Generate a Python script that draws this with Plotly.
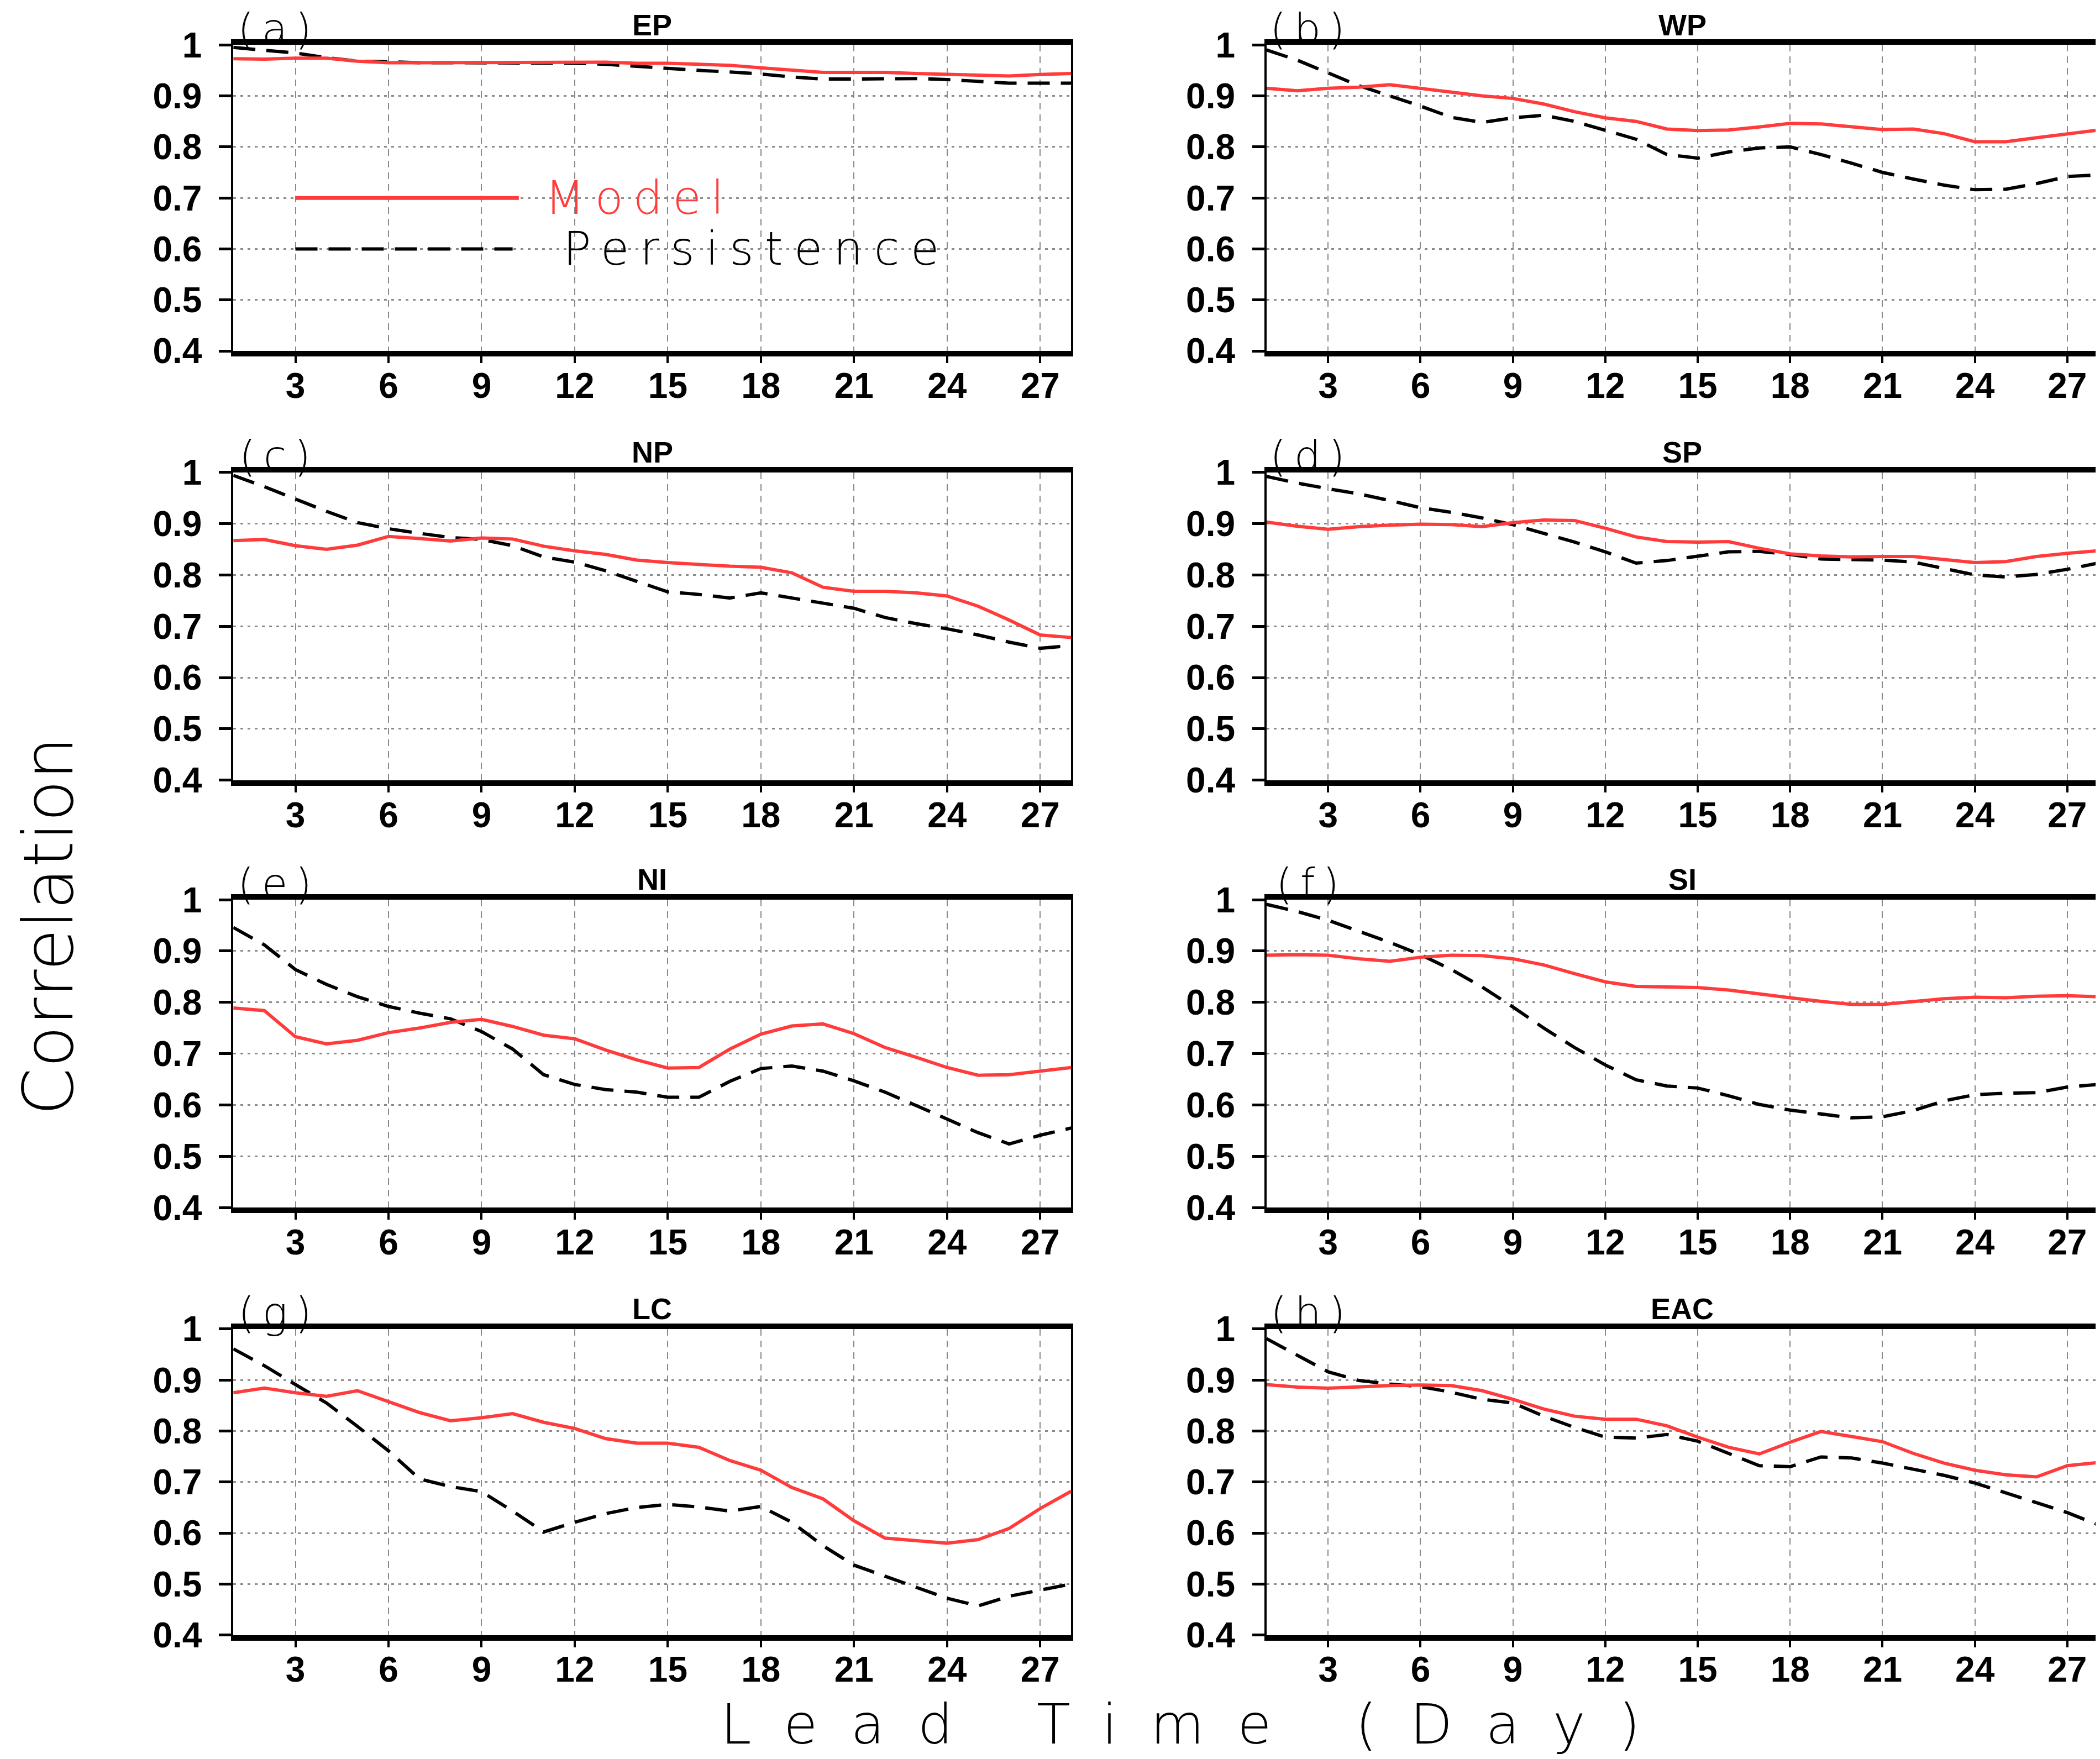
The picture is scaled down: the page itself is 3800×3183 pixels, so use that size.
import plotly.graph_objects as go
from plotly.subplots import make_subplots

days = list(range(1, 29))

ep_model = [0.973, 0.972, 0.974, 0.974, 0.968, 0.965, 0.965, 0.965, 0.965, 0.966, 0.966, 0.966, 0.966, 0.964,
            0.964, 0.962, 0.960, 0.955, 0.950, 0.946, 0.946, 0.946, 0.944, 0.942, 0.941, 0.939, 0.942, 0.944]
ep_pers = [0.995, 0.990, 0.984, 0.975, 0.968, 0.967, 0.965, 0.965, 0.965, 0.964, 0.964, 0.964, 0.962, 0.958,
           0.953, 0.950, 0.947, 0.943, 0.937, 0.933, 0.933, 0.933, 0.934, 0.932, 0.929, 0.925, 0.925, 0.925]

wp_model = [0.915, 0.910, 0.915, 0.917, 0.922, 0.915, 0.908, 0.900, 0.895, 0.884, 0.869, 0.857, 0.850, 0.835,
            0.832, 0.833, 0.839, 0.846, 0.845, 0.840, 0.834, 0.835, 0.826, 0.810, 0.810, 0.818, 0.826, 0.833]
wp_pers = [0.990, 0.970, 0.945, 0.920, 0.900, 0.880, 0.858, 0.848, 0.857, 0.862, 0.850, 0.833, 0.815, 0.785,
           0.778, 0.790, 0.798, 0.800, 0.785, 0.768, 0.750, 0.737, 0.725, 0.716, 0.717, 0.728, 0.742, 0.745]

np_model = [0.867, 0.869, 0.857, 0.850, 0.858, 0.875, 0.871, 0.866, 0.872, 0.870, 0.856, 0.847, 0.840, 0.829,
            0.824, 0.820, 0.817, 0.815, 0.804, 0.776, 0.768, 0.768, 0.765, 0.759, 0.739, 0.712, 0.683, 0.678]
np_pers = [0.994, 0.972, 0.948, 0.924, 0.902, 0.890, 0.881, 0.873, 0.869, 0.857, 0.835, 0.825, 0.808, 0.787,
           0.767, 0.762, 0.755, 0.765, 0.755, 0.744, 0.735, 0.717, 0.705, 0.695, 0.683, 0.669, 0.657, 0.662]

sp_model = [0.903, 0.895, 0.889, 0.894, 0.897, 0.899, 0.898, 0.894, 0.902, 0.907, 0.906, 0.891, 0.874, 0.865,
            0.864, 0.865, 0.852, 0.841, 0.837, 0.835, 0.836, 0.836, 0.830, 0.824, 0.826, 0.836, 0.842, 0.847]
sp_pers = [0.992, 0.979, 0.968, 0.958, 0.945, 0.931, 0.922, 0.911, 0.898, 0.881, 0.864, 0.845, 0.823, 0.828,
           0.837, 0.845, 0.846, 0.840, 0.831, 0.830, 0.829, 0.825, 0.812, 0.800, 0.796, 0.801, 0.811, 0.823]

ni_model = [0.789, 0.784, 0.733, 0.719, 0.726, 0.741, 0.750, 0.761, 0.767, 0.753, 0.736, 0.729, 0.707, 0.688,
            0.672, 0.673, 0.709, 0.738, 0.754, 0.758, 0.739, 0.712, 0.693, 0.673, 0.658, 0.659, 0.666, 0.673]
ni_pers = [0.946, 0.912, 0.864, 0.835, 0.811, 0.792, 0.779, 0.768, 0.743, 0.709, 0.659, 0.640, 0.630, 0.625,
           0.615, 0.615, 0.646, 0.671, 0.676, 0.666, 0.647, 0.625, 0.599, 0.572, 0.546, 0.524, 0.541, 0.555]

si_model = [0.892, 0.893, 0.892, 0.885, 0.880, 0.888, 0.892, 0.891, 0.885, 0.873, 0.856, 0.840, 0.831, 0.830,
            0.829, 0.824, 0.816, 0.809, 0.802, 0.796, 0.796, 0.802, 0.807, 0.810, 0.809, 0.812, 0.813, 0.811]
si_pers = [0.991, 0.977, 0.960, 0.938, 0.917, 0.893, 0.864, 0.830, 0.791, 0.750, 0.712, 0.678, 0.649, 0.637,
           0.633, 0.618, 0.601, 0.590, 0.582, 0.575, 0.577, 0.589, 0.608, 0.620, 0.623, 0.624, 0.635, 0.640]

lc_model = [0.875, 0.884, 0.875, 0.868, 0.879, 0.858, 0.836, 0.820, 0.826, 0.834, 0.817, 0.805, 0.785, 0.776,
            0.776, 0.768, 0.742, 0.723, 0.689, 0.667, 0.624, 0.590, 0.585, 0.580, 0.587, 0.609, 0.648, 0.682]
lc_pers = [0.961, 0.928, 0.891, 0.855, 0.809, 0.761, 0.706, 0.691, 0.681, 0.643, 0.602, 0.621, 0.638, 0.650,
           0.656, 0.651, 0.643, 0.652, 0.621, 0.575, 0.537, 0.515, 0.493, 0.472, 0.457, 0.476, 0.488, 0.500]

eac_model = [0.891, 0.886, 0.884, 0.887, 0.889, 0.890, 0.889, 0.879, 0.862, 0.843, 0.829, 0.823, 0.823, 0.810,
             0.788, 0.768, 0.755, 0.778, 0.799, 0.789, 0.779, 0.756, 0.737, 0.723, 0.714, 0.710, 0.732, 0.738]
eac_pers = [0.981, 0.949, 0.916, 0.899, 0.892, 0.887, 0.876, 0.862, 0.855, 0.829, 0.807, 0.788, 0.786, 0.793,
            0.780, 0.756, 0.732, 0.730, 0.749, 0.747, 0.737, 0.725, 0.713, 0.698, 0.679, 0.660, 0.640, 0.616]

regions = ["EP", "WP", "NP", "SP", "NI", "SI", "LC", "EAC"]
labels = ["(a)", "(b)", "(c)", "(d)", "(e)", "(f)", "(g)", "(h)"]
models = [ep_model, wp_model, np_model, sp_model, ni_model, si_model, lc_model, eac_model]
persist = [ep_pers, wp_pers, np_pers, sp_pers, ni_pers, si_pers, lc_pers, eac_pers]

x_ticks = [3, 6, 9, 12, 15, 18, 21, 24, 27]
y_ticks = [0.4, 0.5, 0.6, 0.7, 0.8, 0.9, 1.0]
y_labels = ["0.4", "0.5", "0.6", "0.7", "0.8", "0.9", "1"]

RED = "#ff3b3b"
FONT = "Liberation Sans"
THIN = "DejaVu Sans"
DASH = "40px,20px"


def spaced(txt, px):
    # wide letter spacing like the original plotting package
    return '<span style="letter-spacing:%dpx">%s</span>' % (px, txt)


col_dom = [[0.109, 0.508], [0.601, 0.997]]
row_dom = [[0.803, 0.977], [0.559, 0.734], [0.316, 0.491], [0.073, 0.247]]

fig = make_subplots(rows=4, cols=2)

for i in range(8):
    r, c = i // 2 + 1, i % 2 + 1
    fig.add_trace(go.Scatter(x=days, y=persist[i], mode="lines", name="Persistence",
                             line=dict(color="black", width=6, dash=DASH),
                             showlegend=False), row=r, col=c)
    fig.add_trace(go.Scatter(x=days, y=models[i], mode="lines", name="Model",
                             line=dict(color=RED, width=6), showlegend=False), row=r, col=c)

    n = "" if i == 0 else str(i + 1)
    fig.layout["xaxis" + n].update(
        domain=col_dom[c - 1], range=[1, 28], tickvals=x_ticks, automargin=False,
        showline=True, mirror=True, linecolor="black", linewidth=10,
        ticks="outside", ticklen=12, tickwidth=4, tickcolor="black",
        showgrid=True, gridcolor="#8a8a8a", gridwidth=2, griddash="12px,9px",
        tickfont=dict(family=FONT, size=64, color="black", weight="bold"),
        zeroline=False, ticklabelstandoff=-14)
    fig.layout["yaxis" + n].update(
        domain=row_dom[r - 1], range=[0.4, 1.0], tickvals=y_ticks, ticktext=y_labels,
        automargin=False,
        showline=True, mirror=True, linecolor="black", linewidth=4,
        ticks="outside", ticklen=22, tickwidth=5, tickcolor="black",
        showgrid=True, gridcolor="#8a8a8a", gridwidth=3, griddash="5px,8px",
        tickfont=dict(family=FONT, size=64, color="black", weight="bold"),
        zeroline=False, ticklabelstandoff=18)

    xr = "x" + n + " domain"
    yr = "y" + n + " domain"
    fig.add_annotation(text=regions[i], xref=xr, yref=yr, x=0.5, y=1.066,
                       showarrow=False, xanchor="center", yanchor="middle",
                       font=dict(family=FONT, size=54, color="black", weight="bold"))
    fig.add_annotation(text=spaced(labels[i], 14), xref=xr, yref=yr, x=0.054, y=1.052,
                       showarrow=False, xanchor="center", yanchor="middle",
                       font=dict(family=THIN, size=76, color="black", weight=200))

# legend drawn inside panel (a)
fig.add_shape(type="line", xref="x", yref="y", x0=3.0, x1=10.2, y0=0.7, y1=0.7,
              line=dict(color=RED, width=7))
fig.add_shape(type="line", xref="x", yref="y", x0=3.0, x1=10.0, y0=0.6, y1=0.6,
              line=dict(color="black", width=6, dash=DASH))
fig.add_annotation(text=spaced("Model", 18), xref="x", yref="y", x=11.0, y=0.7, xanchor="left",
                   showarrow=False, font=dict(family=THIN, size=84, color=RED, weight=200))
fig.add_annotation(text=spaced("Persistence", 20), xref="x", yref="y", x=11.6, y=0.6, xanchor="left",
                   showarrow=False, font=dict(family=THIN, size=84, color="black", weight=200))

fig.add_annotation(text="Correlation", xref="paper", yref="paper", x=0.021, y=0.476,
                   textangle=-90, showarrow=False, xanchor="center", yanchor="middle",
                   font=dict(family=THIN, size=124, color="black", weight=200))
fig.add_annotation(text=spaced("Lead Time (Day)", 60), xref="paper", yref="paper", x=0.568, y=0.022,
                   showarrow=False, xanchor="center", yanchor="middle",
                   font=dict(family=THIN, size=100, color="black", weight=200))

fig.update_layout(width=3800, height=3183, margin=dict(l=0, r=0, t=0, b=0),
                  plot_bgcolor="white", paper_bgcolor="white", showlegend=False)

fig.write_html("out.html")
